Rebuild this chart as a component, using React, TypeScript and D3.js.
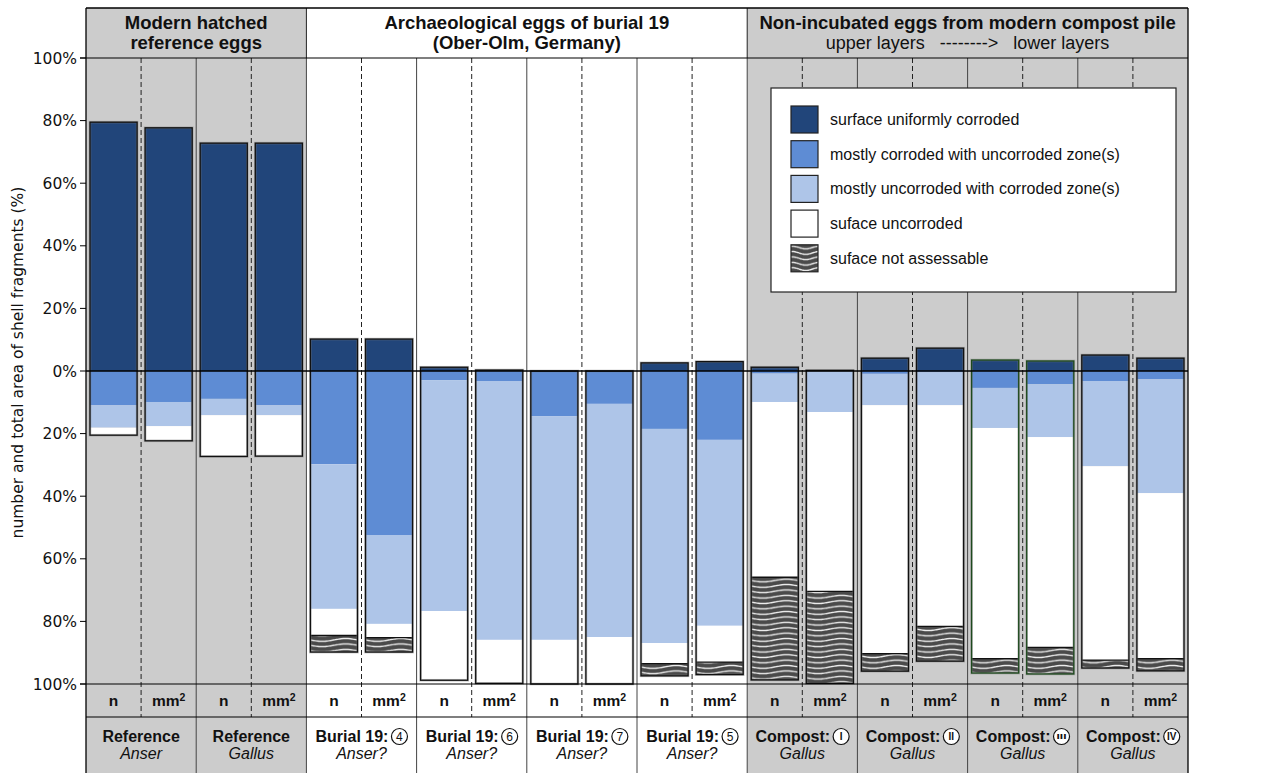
import React from 'react'
import { scaleBand, scaleLinear, line, curveBasis, range } from 'd3'

// groups along the x axis (each has an "n" and a "mm²" bar)
const groupTitles = ['Reference', 'Reference', 'Burial 19:', 'Burial 19:', 'Burial 19:', 'Burial 19:', 'Compost:', 'Compost:', 'Compost:', 'Compost:']
const groupMarks = ['', '', '4', '6', '7', '5', 'I', 'II', 'III', 'IV']
const groupTaxa = ['Anser', 'Gallus', 'Anser?', 'Anser?', 'Anser?', 'Anser?', 'Gallus', 'Gallus', 'Gallus', 'Gallus']
const measures = ['n', 'mm²']

// percentages per bar (n, mm² for each group)
const uniformlyCorroded = [79.5, 77.7, 72.8, 72.8, 10.2, 10.2, 1.2, 0.3, 0, 0, 2.6, 3.0, 1.2, 0.2, 4.1, 7.3, 3.5, 3.2, 5.1, 4.1]
const mostlyCorroded = [10.9, 9.9, 8.9, 10.9, 29.8, 52.4, 2.9, 3.2, 14.4, 10.5, 18.5, 22.0, 0.8, 0.2, 0.9, 0.4, 5.4, 4.2, 3.2, 2.6]
const mostlyUncorroded = [7.2, 7.7, 5.2, 3.2, 46.2, 28.4, 73.8, 82.7, 71.5, 74.5, 68.4, 59.4, 9.1, 12.9, 10.0, 10.5, 12.8, 16.9, 27.2, 36.4]
const uncorroded = [2.4, 4.7, 13.2, 13.1, 8.5, 4.4, 22.1, 13.9, 14.1, 15.0, 6.6, 11.6, 56.0, 57.3, 79.4, 70.7, 73.7, 67.2, 62.0, 52.9]
const notAssessable = [0, 0, 0, 0, 5.3, 4.6, 0, 0, 0, 0, 3.9, 4.0, 32.8, 29.4, 5.6, 11.1, 4.6, 8.5, 2.5, 3.9]

const yTicks = [-100, -80, -60, -40, -20, 0, 20, 40, 60, 80, 100]

const sections = [
  { from: 0, to: 2, lines: ['Modern hatched', 'reference eggs'], sub: null, gray: true },
  { from: 2, to: 6, lines: ['Archaeological eggs of burial 19', '(Ober-Olm, Germany)'], sub: null, gray: false },
  { from: 6, to: 10, lines: ['Non-incubated eggs from modern compost pile'], sub: 'upper layers   -------->   lower layers', gray: true },
]

const legendLabels = [
  'surface uniformly corroded',
  'mostly corroded with uncorroded zone(s)',
  'mostly uncorroded with corroded zone(s)',
  'suface uncorroded',
  'suface not assessable',
]

const colors = ['#21457a', '#5e8cd4', '#aec5e8', '#ffffff']
const GRAY = '#cccccc'
const HATCH = '#4a4a4a'
const FONT = '"Liberation Sans", Arial, sans-serif'
const AXFONT = '"DejaVu Sans", sans-serif'

const W = 1282
const H = 773
const left = 86
const right = 1188
const top = 8
const plotTop = 58
const plotBottom = 684
const rowBottom = 717

const LABEL_SIZE = 16

const groupIds = range(groupTitles.length).map(String)
const barIds = range(groupTitles.length * 2).map(String)

const xGroup = scaleBand().domain(groupIds).range([left, right])
const xBar = scaleBand().domain(barIds).range([left, right])
const y = scaleLinear().domain([-100, 100]).range([plotBottom, plotTop])

const barW = xBar.bandwidth() * 0.855

let ctx: CanvasRenderingContext2D | null = null
const measure = (txt: string, font: string) => {
  if (!ctx) ctx = document.createElement('canvas').getContext('2d')
  if (!ctx) return txt.length * 8.5
  ctx.font = font
  return ctx.measureText(txt).width
}

const wavePath = (w: number, h: number) =>
  line<number>()
    .x(t => t * w)
    .y(t => h / 2 + Math.sin(t * Math.PI * 2) * 1.4)
    .curve(curveBasis)(range(0, 1.0001, 0.05))

const HatchPattern = ({ id, x, w }: { id: string; x: number; w: number }) => (
  <pattern id={id} patternUnits='userSpaceOnUse' x={x} y={0} width={w} height={5.4}>
    <rect width={w} height={5.4} fill={HATCH} />
    <path d={wavePath(w, 5.4) ?? ''} fill='none' stroke='#f2f2f2' strokeWidth={1.25} />
  </pattern>
)

const R = 8
const Circled = ({ x, y: cy, label }: { x: number; y: number; label: string }) => {
  const roman = /[IV]/.test(label)
  const fs = roman ? (label.length > 2 ? 8 : 10) : 12
  return (
    <g>
      <circle cx={x} cy={cy} r={R} fill='white' stroke='#111' strokeWidth={1.2} />
      <text x={x} y={cy + fs * 0.36} textAnchor='middle' fontSize={fs} fontFamily={FONT}
        fontWeight={roman ? 'bold' : 'normal'} fill='#111'
        {...(label.length > 2 ? { textLength: 10, lengthAdjust: 'spacingAndGlyphs' } : {})}>{label}</text>
    </g>
  )
}

export default function App() {
  const bars = barIds.map((id, i) => {
    const x0 = (xBar(id) ?? 0) + (xBar.bandwidth() - barW) / 2
    const below = [mostlyCorroded[i], mostlyUncorroded[i], uncorroded[i], notAssessable[i]]
    let acc = 0
    const segs = below.map((v, k) => {
      const s = { from: -acc, to: -(acc + v), k: k + 1 }
      acc += v
      return s
    })
    return { id, i, x0, up: uniformlyCorroded[i], segs, total: acc }
  })

  const legendX = 771
  const legendY = 88

  return (
    <div style={{ position: 'absolute', left: 0, top: 0 }}>
      <svg width={W} height={H} style={{ display: 'block' }}>
        <defs>
          {bars.map(b => <HatchPattern key={b.id} id={`hatch-${b.id}`} x={b.x0} w={barW} />)}
          <HatchPattern id='hatch-legend' x={legendX + 20} w={27} />
        </defs>
        <rect width={W} height={H} fill='white' />

        {/* section backgrounds */}
        {sections.map((s, k) => (
          <rect key={k}
            x={xGroup(String(s.from))}
            y={top}
            width={xGroup.bandwidth() * (s.to - s.from)}
            height={H - top}
            fill={s.gray ? GRAY : 'white'} />
        ))}

        {/* dashed mid lines and group separators */}
        {groupIds.map(g => {
          const gx = xGroup(g) ?? 0
          const mid = gx + xGroup.bandwidth() / 2
          return (
            <g key={g}>
              <line x1={mid} x2={mid} y1={plotTop} y2={rowBottom} stroke='#222' strokeWidth={1} strokeDasharray='5,3' />
              {g !== '0' && <line x1={gx} x2={gx} y1={plotTop} y2={H} stroke='#444' strokeWidth={1} />}
            </g>
          )
        })}
        {sections.slice(1).map((s, k) => {
          const sx = xGroup(String(s.from)) ?? 0
          return <line key={k} x1={sx} x2={sx} y1={top} y2={plotTop} stroke='#222' strokeWidth={1} />
        })}

        {/* bars */}
        {bars.map(b => {
          const stroke = b.i === 16 || b.i === 17 ? '#1d4a1d' : '#111'
          return (
            <g key={b.id}>
              {b.up > 0 && <rect x={b.x0} y={y(b.up)} width={barW} height={y(0) - y(b.up)} fill={colors[0]} />}
              {b.segs.filter(s => s.from !== s.to).map(s => (
                <rect key={s.k} x={b.x0} y={y(s.from)} width={barW} height={y(s.to) - y(s.from)}
                  fill={s.k === 4 ? `url(#hatch-${b.id})` : colors[s.k]} />
              ))}
              {b.segs[3].from !== b.segs[3].to && (
                <line x1={b.x0} x2={b.x0 + barW} y1={y(b.segs[3].from)} y2={y(b.segs[3].from)} stroke='#111' strokeWidth={1.3} />
              )}
              <rect x={b.x0} y={y(b.up)} width={barW} height={y(-b.total) - y(b.up)}
                fill='none' stroke='#777' strokeWidth={2.6} strokeOpacity={0.45} />
              <rect x={b.x0} y={y(b.up)} width={barW} height={y(-b.total) - y(b.up)}
                fill='none' stroke={stroke} strokeWidth={1.3} />
            </g>
          )
        })}

        {/* zero line */}
        <line x1={left} x2={right} y1={y(0)} y2={y(0)} stroke='#000' strokeWidth={1.3} />

        {/* frame lines */}
        <line x1={left} x2={right} y1={top} y2={top} stroke='#000' strokeWidth={1.3} />
        <line x1={left - 6} x2={right} y1={plotTop} y2={plotTop} stroke='#000' strokeWidth={1.2} />
        <line x1={left - 6} x2={right} y1={plotBottom} y2={plotBottom} stroke='#000' strokeWidth={1.2} />
        <line x1={left} x2={right} y1={rowBottom} y2={rowBottom} stroke='#000' strokeWidth={1.2} />
        <line x1={left} x2={left} y1={top} y2={H} stroke='#000' strokeWidth={1.3} />
        <line x1={right} x2={right} y1={top} y2={H} stroke='#000' strokeWidth={1.3} />

        {/* y axis */}
        {yTicks.map(t => (
          <g key={t} transform={`translate(0,${y(t)})`}>
            <line x1={left - 6} x2={left} stroke='#000' strokeWidth={1} />
            <text x={left - 9} y={5.5} textAnchor='end' fontSize={15.5} fontFamily={AXFONT} fill='#111'>{Math.abs(t)}%</text>
          </g>
        ))}
        <text transform={`translate(23,${(top + rowBottom) / 2}) rotate(-90)`} textAnchor='middle'
          fontSize={15.5} fontFamily={AXFONT} fill='#111'>number and total area of shell fragments (%)</text>

        {/* section headers */}
        {sections.map((s, k) => {
          const cx = (xGroup(String(s.from)) ?? 0) + xGroup.bandwidth() * (s.to - s.from) / 2
          return (
            <g key={k}>
              {s.lines.map((l, j) => (
                <text key={j} x={cx} y={29 + j * 20} textAnchor='middle' fontSize={18.5} fontWeight='bold' fontFamily={FONT} fill='#111'>{l}</text>
              ))}
              {s.sub && <text x={cx} y={49} textAnchor='middle' fontSize={18} fontFamily={FONT} fill='#111' style={{ whiteSpace: 'pre' }}>{s.sub}</text>}
            </g>
          )
        })}

        {/* n / mm² row */}
        {barIds.map((id, i) => (
          <text key={id} x={(xBar(id) ?? 0) + xBar.bandwidth() / 2} y={706} textAnchor='middle'
            fontSize={15.5} fontWeight='bold' fontFamily={FONT} fill='#111'>
            {i % 2 === 0 ? measures[0] : <>mm<tspan dy={-5.5} fontSize={10.5}>2</tspan></>}
          </text>
        ))}

        {/* group labels */}
        {groupIds.map((g, i) => {
          const cx = (xGroup(g) ?? 0) + xGroup.bandwidth() / 2
          const hasMark = groupMarks[i] !== ''
          const titleW = measure(groupTitles[i], `bold ${LABEL_SIZE}px "Liberation Sans", Arial, sans-serif`)
          const total = hasMark ? titleW + 3 + 2 * R : titleW
          const start = cx - total / 2
          return (
            <g key={g}>
              <text x={start} y={742} fontSize={LABEL_SIZE} fontWeight='bold' fontFamily={FONT} fill='#111'>{groupTitles[i]}</text>
              {hasMark && <Circled x={start + titleW + 3 + R} y={736.5} label={groupMarks[i]} />}
              <text x={cx} y={759} textAnchor='middle' fontSize={LABEL_SIZE} fontStyle='italic' fontFamily={FONT} fill='#111'>{groupTaxa[i]}</text>
            </g>
          )
        })}

        {/* legend */}
        <g transform={`translate(${legendX},${legendY})`}>
          <rect width={405} height={204} fill='white' stroke='#222' strokeWidth={1.2} />
          {legendLabels.map((l, k) => (
            <g key={k} transform={`translate(20,${18 + k * 34.7})`}>
              <rect width={27} height={27}
                fill={k === 4 ? 'url(#hatch-legend)' : colors[k]} stroke='#222' strokeWidth={1.2} />
              <text x={39} y={19} fontSize={16} fontFamily={FONT} fill='#111'>{l}</text>
            </g>
          ))}
        </g>
      </svg>
    </div>
  )
}
